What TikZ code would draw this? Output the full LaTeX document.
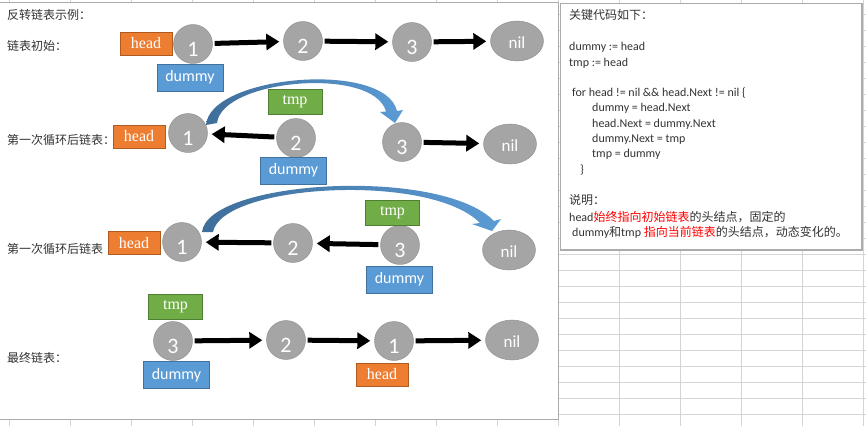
\documentclass[tikz,border=0pt]{standalone}
\usepackage{fontspec}
\setmainfont{Carlito}
\newfontfamily\zhfont{Noto Sans CJK SC}
\newfontfamily\boxfont{Liberation Serif}
\usetikzlibrary{arrows.meta,shapes.geometric}
\definecolor{hdorange}{HTML}{ED7D31}
\definecolor{hdedge}{HTML}{AE5A21}
\definecolor{dmblue}{HTML}{5B9BD5}
\definecolor{dmedge}{HTML}{41719C}
\definecolor{tpgreen}{HTML}{70AD47}
\definecolor{tpedge}{HTML}{507E32}
\definecolor{nodegray}{HTML}{A5A5A5}
\definecolor{nodeedge}{HTML}{8C8C8C}
\definecolor{gridgray}{HTML}{D4D4D4}
\definecolor{panelgray}{HTML}{ABABAB}
\definecolor{bandL}{HTML}{3F6E9A}
\definecolor{bandR}{HTML}{5B9BD5}
\definecolor{txt}{HTML}{333333}

\begin{document}
\begin{tikzpicture}
    [x=1pt,y=-1pt,
     pre/.style={<-,shorten <=4pt,shorten >=2pt,>={Triangle[length=13pt,width=16pt]},line width=5pt},
     rev/.style={->,shorten >=4pt,shorten <=2pt,>={Triangle[length=13pt,width=16pt]},line width=5pt},
     nd/.style={shape=circle,fill=nodegray,draw=nodeedge,minimum size=39pt,inner sep=0pt,
       text=white,font=\fontsize{22}{22}\selectfont,text height=25pt,text depth=0pt},
     ndend/.style={shape=ellipse,fill=nodegray,draw=nodeedge,minimum width=53pt,minimum height=40pt,
       inner sep=0pt,text=white,font=\fontsize{17}{17}\selectfont,text height=14pt,text depth=0pt},
     hdbox/.style={fill=hdorange,draw=hdedge,minimum width=52pt,minimum height=23pt,inner sep=0pt,
       text=white,font=\boxfont\fontsize{16}{16}\selectfont},
     tpbox/.style={fill=tpgreen,draw=tpedge,minimum width=54pt,minimum height=25pt,inner sep=0pt,
       text=white,font=\boxfont\fontsize{16}{16}\selectfont},
     dmbox/.style={fill=dmblue,draw=dmedge,minimum width=66pt,minimum height=27pt,inner sep=0pt,
       text=white,font=\fontsize{16}{16}\selectfont},
     lbl/.style={anchor=base west,inner sep=0pt,text=txt,font=\zhfont\fontsize{12}{12}\selectfont},
     codeline/.style={anchor=base west,inner sep=0pt,text=txt,font=\fontsize{12}{12}\selectfont}]
    \useasboundingbox (0,0) rectangle (866,426);
    \fill[white] (0,0) rectangle (866,426);
    % sheet grid
    \foreach \k in {0,...,14}
      \draw[gridgray,line width=1pt] (9.4+61.04*\k,0) -- (9.4+61.04*\k,426);
    \foreach \k in {0,...,27}
      \draw[gridgray,line width=1pt] (0,-2+16*\k) -- (866,-2+16*\k);
    \draw[panelgray,fill=white,line width=1pt] (-2,2.5) rectangle (558,419);
    \draw[panelgray,fill=white,line width=1.5pt] (560.5,3.5) rectangle (862,250);

    \node [lbl] (t0) at (7,19.5) {反转链表示例：};
    \node [lbl] (t1) at (7,50.5) {链表初始：};
    \node [lbl] (t2) at (7,144.5) {第一次循环后链表：};
    \node [lbl] (t3) at (7,253.5) {第一次循环后链表};
    \node [lbl] (t4) at (7,362.5) {最终链表：};

    % start
    \node [nd] (A1) at (193,44) {1};
    \node [hdbox] (H1) at (146,43.5) {head};
    \node [dmbox] (D1) at (190,77.5) {dummy};
    \node [nd] (B1) at (303,41) {2} edge [pre] (A1);
    \node [nd] (C1) at (412,42) {3} edge [pre] (B1);
    \node [ndend] (N1) at (517,41) {nil} edge [pre] (C1);

    % first pass
    \node [nd] (A2) at (188,133) {1};
    \node [hdbox] (H2) at (139,136.5) {head};
    \node [nd] (B2) at (296,138) {2} edge [rev] (A2);
    \node [tpbox] (T2) at (295,101.5) {tmp};
    \node [dmbox] (D2) at (293.5,170.5) {dummy};
    \node [nd] (C2) at (402,142) {3};
    \node [ndend] (N2) at (510,144) {nil} edge [pre] (C2);
    \shade[left color=bandL,right color=bandR] (206,125) .. controls (210,75) and (385,60) .. (397,111)
      -- (403,110) -- (395,123) -- (380,112) -- (386,111.5) .. controls (374,66) and (222,79) .. (217,123) -- cycle;

    % second pass
    \node [nd] (A3) at (182,242) {1};
    \node [hdbox] (H3) at (134,243) {head};
    \node [nd] (B3) at (293,243) {2} edge [rev] (A3);
    \node [nd] (C3) at (400,245) {3} edge [rev] (B3);
    \node [tpbox] (T3) at (392.5,212.5) {tmp};
    \node [dmbox] (D3) at (399.5,279.5) {dummy};
    \node [ndend] (N3) at (509,250) {nil};
    \shade[left color=bandL,right color=bandR] (202,232) .. controls (208,180) and (440,166) .. (494,221)
      -- (501,219) -- (492,231) -- (472,224) -- (480,223) .. controls (430,172) and (222,184) .. (213,232) -- cycle;

    % end
    \node [nd] (C4) at (173,341) {3};
    \node [tpbox] (T4) at (175.5,306.5) {tmp};
    \node [dmbox] (D4) at (176.5,375) {dummy};
    \node [nd] (B4) at (286,340) {2} edge [pre] (C4);
    \node [nd] (A4) at (394,341) {1} edge [pre] (B4);
    \node [hdbox] (H4) at (382,374.5) {head};
    \node [ndend] (N4) at (512,340) {nil} edge [pre] (A4);

    % code box
    \node [codeline] (K0) at (569,19.5) {\zhfont 关键代码如下：};
    \node [codeline] (K1) at (569,50.5) {dummy := head};
    \node [codeline] (K2) at (569,66.5) {tmp := head};
    \node [codeline] (K3) at (572,96.5) {for head != nil \&\& head.Next != nil \{};
    \node [codeline] (K4) at (592,111.5) {dummy = head.Next};
    \node [codeline] (K5) at (592,127.5) {head.Next = dummy.Next};
    \node [codeline] (K6) at (592,142.5) {dummy.Next = tmp};
    \node [codeline] (K7) at (592,157.5) {tmp = dummy};
    \node [codeline] (K8) at (580,173.5) {\}};
    \node [codeline] (K9) at (569,204.5) {\zhfont 说明：};
    \node [codeline] (K10) at (569,221.5) {head{\zhfont\color{red}始终指向初始链表}{\zhfont 的头结点，固定的}};
    \node [codeline] (K11) at (572,236.5) {dummy{\zhfont 和}tmp {\zhfont\color{red}指向当前链表}{\zhfont 的头结点，动态变化的。}};
  \end{tikzpicture}
\end{document}
